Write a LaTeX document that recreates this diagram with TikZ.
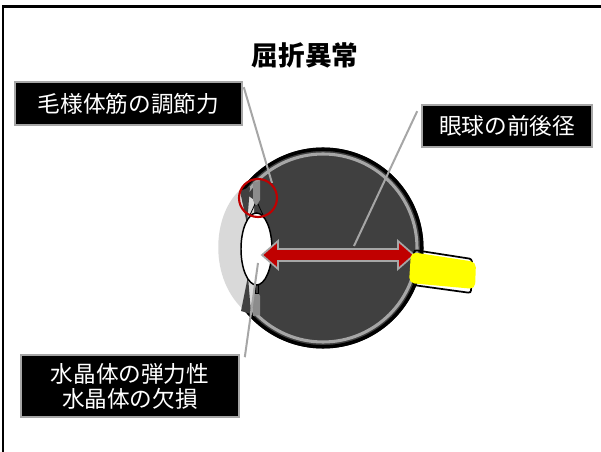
\documentclass[tikz,border=0pt]{standalone}
\usepackage{fontspec}
\newfontfamily\jp{Noto Sans CJK JP}
\usetikzlibrary{calc}
\definecolor{globedark}{HTML}{404040}
\definecolor{ringgray}{HTML}{A6A6A6}
\definecolor{corneagray}{HTML}{D9D9D9}
\definecolor{ciliary}{HTML}{8C8C8C}
\definecolor{alertred}{HTML}{C00000}
\definecolor{nerve}{HTML}{FFFF00}
\tikzset{
  labelbox/.style={fill=black, draw=ringgray, line width=1.2pt, text=white,
    font=\jp\fontsize{17}{18.75}\selectfont, inner sep=0pt, align=center},
  leader/.style={draw=ringgray, line width=1.5pt},
}
\begin{document}
\begin{tikzpicture}[x=0.75pt,y=-0.75pt]
\useasboundingbox (0,0) rectangle (601,452);
% frame edges
\draw[line width=1.6pt] (3,452) -- (3,6.5) -- (601,6.5);

% title
\node[font=\jp\bfseries\fontsize{20}{24}\selectfont] (title) at (305,55) {屈折異常};

% eyeball
\fill[globedark] (323,248) circle (100.5);
\draw[black, line width=2.6pt] (323,248) circle (98.8);
\draw[ringgray, line width=2.3pt] (323,248) circle (94);

% cornea
\fill[corneagray] (240,190) .. controls (212,215) and (208,280) .. (246,312)
  -- (254,300) -- (254,200) -- cycle;

% iris wedges
\fill[globedark] (240,191) -- (250,187) -- (247,224) -- cycle;
\fill[globedark] (241,311) -- (251,314) -- (248,276) -- cycle;

% ciliary body
\fill[ciliary] (253,182) -- (260,181) -- (260,200) -- (257,205) -- (255,205) -- (253,200) -- cycle;
\fill[ciliary] (253,296) -- (256,292) -- (258,292) -- (260,296) -- (260,315) -- (253,316) -- cycle;

% zonules
\draw[black, line width=0.6pt] (255,204) -- (250,215) (258,204) -- (263,215);
\draw[black, fill=globedark, line width=0.6pt] (255,282) rectangle (258,293);

% lens
\draw[black, fill=white, line width=1.1pt] (256.5,249) ellipse (15.5 and 36);

% axial length arrow
\draw[fill=alertred, draw=ringgray, line width=1.3pt]
  (262,255) -- (278,241) -- (278,249) -- (398,249) -- (398,241) -- (414,255)
  -- (398,269) -- (398,261) -- (278,261) -- (278,269) -- cycle;

% optic nerve
\draw[black, line width=1.3pt, rounded corners=2pt]
  (414,250) -- (472,259) -- (471,293) -- (413,285) -- cycle;
\fill[nerve, rounded corners=4pt]
  (411,252) -- (476,262) -- (475,289) -- (409,283) -- cycle;

% labels
\node[labelbox, minimum width=170.25pt, minimum height=32.25pt] (b1) at (128.5,103.5) {毛様体筋の調節力};
\node[labelbox, minimum width=127.5pt, minimum height=31.5pt] (b2) at (507,126) {眼球の前後径};
\node[labelbox, minimum width=163.5pt, minimum height=46.5pt] (b3) at (130,386) {水晶体の弾力性\\水晶体の欠損};

% leader lines
\coordinate (t1) at (272,183);
\coordinate (t2) at (354,246);
\coordinate (t3) at (258,263);
\draw[leader] ($(b1.north east)+(1,6)$) -- (t1);
\draw[leader] ($(b2.north west)+(-4,7)$) -- (t2);
\draw[leader] ($(b3.north east)+(5,3)$) -- (t3);

% highlight of the ciliary muscle
\node[draw=alertred, line width=1.6pt, circle, minimum size=28.5pt, inner sep=0pt] (ring) at (258,198) {};
\end{tikzpicture}
\end{document}
